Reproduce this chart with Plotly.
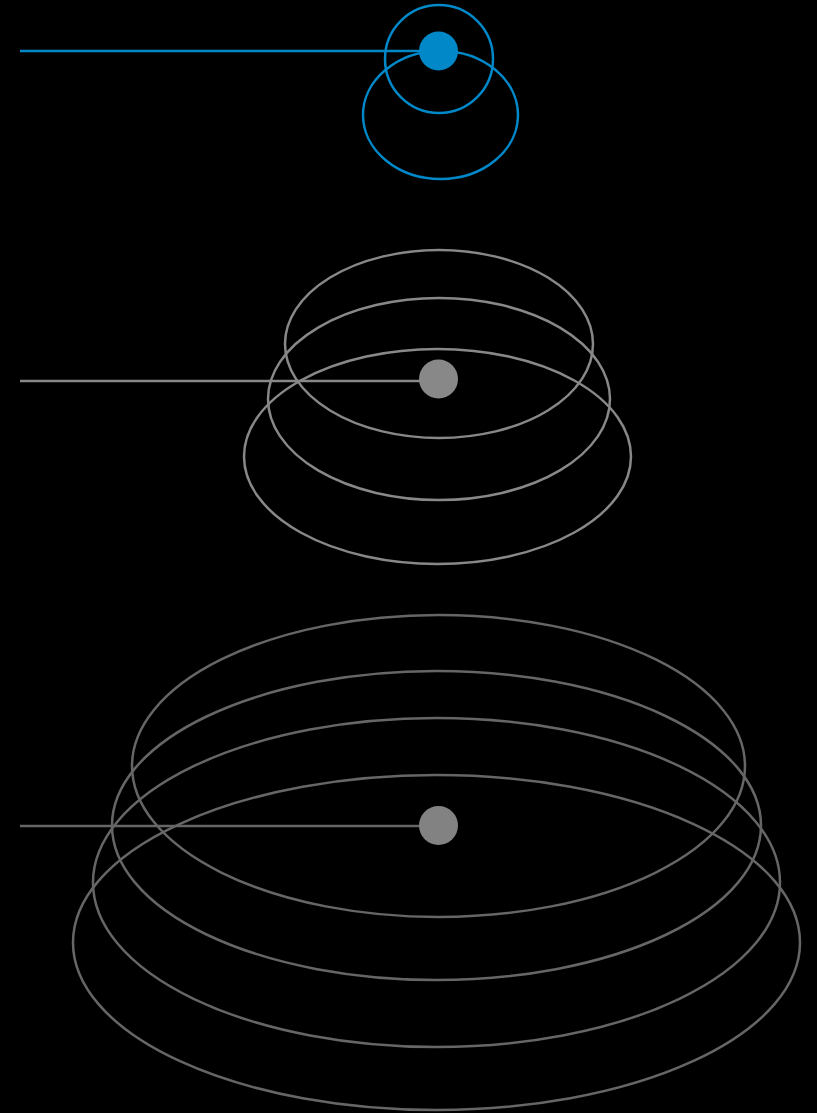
import plotly.graph_objects as go

# Groups: dot position, line start, colors
group_names = ["top", "middle", "bottom"]
dot_x = [438.5, 438.5, 438.5]
dot_y = [51, 379, 825.5]
line_y = [51, 381, 826]
line_start_x = [20, 20, 20]
dot_colors = ["#0088c8", "#888888", "#828282"]
line_colors = ["#0088c8", "#888888", "#666666"]

# Ellipses per group: center x, center y, radius x, radius y
ell_group = [0, 0, 1, 1, 1, 2, 2, 2, 2]
ell_cx = [439, 440.5, 439, 439, 437.5, 438.5, 436.5, 436.5, 436.5]
ell_cy = [59, 115, 344, 399, 456.5, 766, 825.5, 882.5, 942.5]
ell_rx = [54, 77.5, 154, 171, 193.5, 306.5, 324.5, 343.5, 363.5]
ell_ry = [54, 64, 94, 101, 107.5, 151, 154.5, 164.5, 167.5]

W, H = 817, 1113

fig = go.Figure()

for i, g in enumerate(ell_group):
    fig.add_shape(
        type="circle", xref="x", yref="y",
        x0=ell_cx[i] - ell_rx[i], x1=ell_cx[i] + ell_rx[i],
        y0=ell_cy[i] - ell_ry[i], y1=ell_cy[i] + ell_ry[i],
        line=dict(color=line_colors[g], width=2.5),
        fillcolor="rgba(0,0,0,0)", layer="below",
    )

for i in range(len(group_names)):
    fig.add_trace(go.Scatter(
        x=[line_start_x[i], dot_x[i]], y=[line_y[i], line_y[i]],
        mode="lines", line=dict(color=line_colors[i], width=2.5),
        hoverinfo="skip", showlegend=False,
    ))
    fig.add_trace(go.Scatter(
        x=[dot_x[i]], y=[dot_y[i]], mode="markers",
        marker=dict(color=dot_colors[i], size=39, line=dict(width=0)),
        name=group_names[i], showlegend=False,
    ))

fig.update_layout(
    width=W, height=H,
    margin=dict(l=0, r=0, t=0, b=0),
    paper_bgcolor="black", plot_bgcolor="black",
    xaxis=dict(range=[0, W], visible=False, fixedrange=True),
    yaxis=dict(range=[H, 0], visible=False, fixedrange=True),
    showlegend=False,
)

fig.write_html(
    "out.html",
    config={"displayModeBar": False},
    post_script="document.body.style.margin='0';document.body.style.background='black';document.body.style.overflow='hidden';",
)
